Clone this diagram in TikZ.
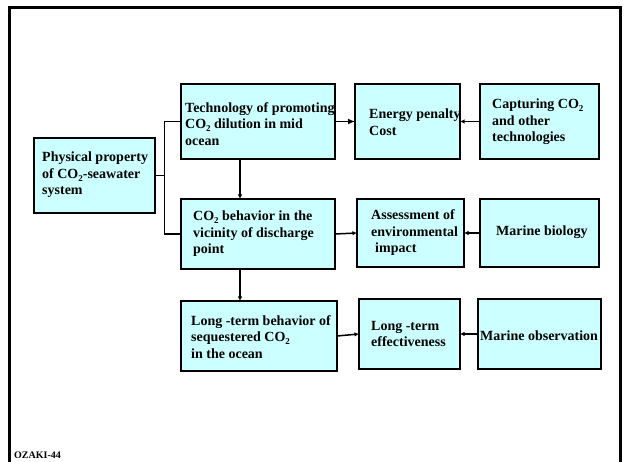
\documentclass[tikz,border=0pt]{standalone}
\usepackage{fontspec}
\setmainfont{Liberation Serif}
\usetikzlibrary{arrows.meta}
\definecolor{boxcyan}{HTML}{CCFFFF}
\newcommand{\cotwo}{CO\raisebox{-0.45ex}{\fontsize{9}{9}\selectfont 2}}
\begin{document}
\begin{tikzpicture}[x=1pt,y=-1pt,
  box/.style={draw, line width=1.6pt, fill=boxcyan, anchor=north west, inner sep=0pt, outer sep=0pt},
  lbl/.style={anchor=west, align=left, font=\fontsize{14}{16.5}\selectfont\bfseries, inner sep=0pt},
  conn/.style={line width=1.5pt},
  arr/.style={conn, -{Latex[length=7pt,width=6pt]}},
  arrsmall/.style={conn, -{Latex[length=4.5pt,width=4.5pt]}}]
\useasboundingbox (0,0) rectangle (625,462);
\fill[white] (0,0) rectangle (625,462);
% frame
\draw[line width=3pt] (9,462) -- (9,7.5) -- (620,7.5) -- (620,462);
% boxes
\node[box, minimum width=121pt, minimum height=75pt] (phys) at (34,138) {};
\node[box, minimum width=154pt, minimum height=75pt] (tech) at (181,84) {};
\node[box, minimum width=105pt, minimum height=75pt] (energy) at (355,84) {};
\node[box, minimum width=119pt, minimum height=75pt] (capt) at (480,84) {};
\node[box, minimum width=154pt, minimum height=70pt] (beh) at (181,199) {};
\node[box, minimum width=107pt, minimum height=68pt] (assess) at (357,199) {};
\node[box, minimum width=119pt, minimum height=68pt] (bio) at (480,199) {};
\node[box, minimum width=156pt, minimum height=70pt] (long) at (181,301) {};
\node[box, minimum width=101pt, minimum height=70pt] (eff) at (359,299) {};
\node[box, minimum width=123pt, minimum height=70pt] (obs) at (478,299) {};
% labels
\node[lbl] (tphys) at (42,175) {Physical property\\of \cotwo-seawater\\system};
\node[lbl] (ttech) at (185,124) {Technology of promoting\\\cotwo\ dilution in mid\\ocean};
\node[lbl] (tenergy) at (369,122) {Energy penalty\\Cost};
\node[lbl] (tcapt) at (492,122) {Capturing \cotwo\\and other\\technologies};
\node[lbl] (tbeh) at (193,234) {\cotwo\ behavior in the\\vicinity of discharge\\point};
\node[lbl] (tassess) at (371,233) {Assessment of\\environmental\\\hspace{4pt}impact};
\node[lbl] (tbio) at (496,232) {Marine biology};
\node[lbl] (tlong) at (191,337) {Long -term behavior of\\sequestered \cotwo\\in the ocean};
\node[lbl] (teff) at (371,334) {Long -term\\effectiveness};
\node[lbl] (tobs) at (480,336) {Marine observation};
\node[anchor=west, inner sep=0pt, font=\fontsize{10}{10}\selectfont\bfseries] (tag) at (14,455) {OZAKI-44};
% connectors
\coordinate (bus) at (164.5,177);
\coordinate (vx) at (240,0);
\draw[conn] (phys.east) -- (phys.east -| bus);
\draw[conn] (tech.west) -| (bus) |- (beh.west);
\draw[arr] (tech.east) -- (energy.west);
\draw[arrsmall] (capt.west) -- (energy.east);
\draw[arrsmall] (tech.south -| vx) -- (beh.north -| vx);
\draw[arrsmall] (beh.east) -- (assess.west);
\draw[arrsmall] (bio.west) -- (assess.east);
\draw[arrsmall] (beh.south -| vx) -- (long.north -| vx);
\draw[arrsmall] (long.east) -- (eff.west);
\draw[arrsmall] (obs.west) -- (eff.east);
\end{tikzpicture}
\end{document}
